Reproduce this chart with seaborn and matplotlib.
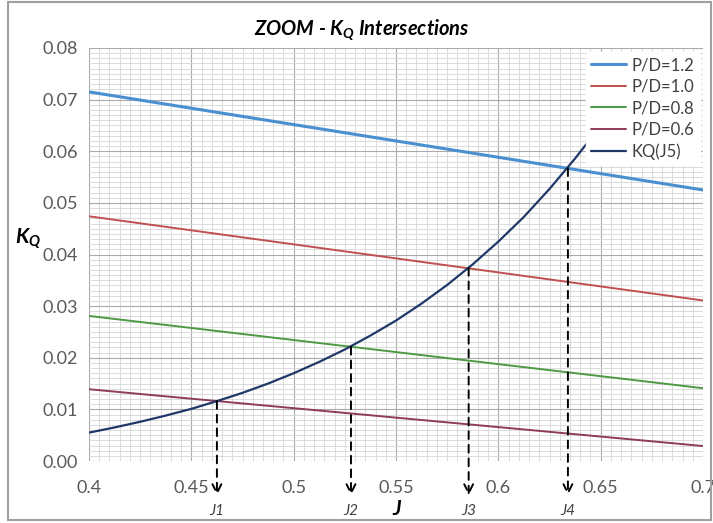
import matplotlib
matplotlib.use("Agg")
import matplotlib.pyplot as plt
import matplotlib.transforms as mtransforms
from matplotlib.patches import Rectangle
from matplotlib.ticker import MultipleLocator
import numpy as np
import pandas as pd
import seaborn as sns

# Open-water torque coefficient lines for each pitch ratio (straight segments)
j_line = [0.40, 0.70]
kq_pd12 = [0.0715, 0.0525]
kq_pd10 = [0.0474, 0.0311]
kq_pd08 = [0.0281, 0.0141]
kq_pd06 = [0.0139, 0.0029]

# Required torque curve KQ(J5)
j_curve = [0.4000, 0.4125, 0.4250, 0.4375, 0.4500, 0.4625, 0.4750, 0.4875, 0.5000,
           0.5125, 0.5250, 0.5375, 0.5500, 0.5625, 0.5750, 0.5875, 0.6000, 0.6125,
           0.6250, 0.6375, 0.6470]
kq_curve = [0.0055, 0.0065, 0.0076, 0.0088, 0.0101, 0.0116, 0.0132, 0.0150, 0.0170,
            0.0192, 0.0216, 0.0243, 0.0272, 0.0305, 0.0341, 0.0381, 0.0425, 0.0473,
            0.0527, 0.0586, 0.0634]

# Intersection points marked with dropped arrows
j_marks = [0.4625, 0.528, 0.5855, 0.634]
kq_marks = [0.0116, 0.0221, 0.0374, 0.0567]
mark_labels = ["J1", "J2", "J3", "J4"]

series_names = ["P/D=1.2", "P/D=1.0", "P/D=0.8", "P/D=0.6", "KQ(J5)"]
series_colors = ["#4a8fd0", "#c0504d", "#4e9a44", "#8e3b5c", "#1f3868"]
series_widths = [2.2, 1.4, 1.4, 1.4, 1.6]

rows = []
for name, vals in zip(series_names[:4], [kq_pd12, kq_pd10, kq_pd08, kq_pd06]):
    for j, k in zip(j_line, vals):
        rows.append({"J": j, "KQ": k, "series": name})
for j, k in zip(j_curve, kq_curve):
    rows.append({"J": j, "KQ": k, "series": series_names[4]})
df = pd.DataFrame(rows)

sns.set_theme(style="white")
plt.rcParams["font.family"] = ["Lato", "DejaVu Sans"]

fig = plt.figure(figsize=(7.13, 5.23), dpi=100)
ax = fig.add_axes([89 / 713, 1 - 461 / 523, (703 - 89) / 713, (461 - 48) / 523])

# Grid: major and minor lines
ax.set_xlim(0.4, 0.7)
ax.set_ylim(0.0, 0.08)
ax.xaxis.set_major_locator(MultipleLocator(0.05))
ax.xaxis.set_minor_locator(MultipleLocator(0.005))
ax.yaxis.set_major_locator(MultipleLocator(0.01))
ax.yaxis.set_minor_locator(MultipleLocator(0.001))
ax.grid(which="major", color="#ababab", linewidth=0.8)
ax.grid(which="minor", color="#d6d6d6", linewidth=0.6)
ax.set_axisbelow(True)
for s in ax.spines.values():
    s.set_visible(False)

sns.lineplot(data=df, x="J", y="KQ", hue="series", hue_order=series_names,
             palette=series_colors, ax=ax, legend=False, sort=True, estimator=None)
for line, lw in zip(ax.get_lines(), series_widths):
    line.set_linewidth(lw)

# Tick labels
ax.set_xticks([0.4, 0.45, 0.5, 0.55, 0.6, 0.65, 0.7])
ax.set_xticklabels(["0.4", "0.45", "0.5", "0.55", "0.6", "0.65", "0.7"])
ax.set_yticks(np.arange(0, 0.081, 0.01))
ax.set_yticklabels([f"{v:.2f}" for v in np.arange(0, 0.081, 0.01)])
ax.tick_params(axis="both", which="both", length=0, labelsize=13, labelcolor="#595959")
ax.tick_params(axis="x", pad=14)
ax.tick_params(axis="y", pad=8)
ax.set_xlabel("")
ax.set_ylabel("")

# Legend on white background over the grid
handles = [plt.Line2D([], [], color=c, lw=lw) for c, lw in zip(series_colors, series_widths)]
leg = ax.legend(handles, series_names, loc="upper right",
                bbox_to_anchor=(708 / 713, 1 - 44 / 523), bbox_transform=fig.transFigure,
                frameon=True, fontsize=12, handlelength=2.1, handletextpad=0.35,
                labelspacing=0.33, borderpad=0.3, labelcolor="#404040")
leg.get_frame().set_facecolor("white")
leg.get_frame().set_edgecolor("white")
leg.get_frame().set_alpha(1)

# Dashed arrows dropping from each intersection to below the axis
trans = mtransforms.blended_transform_factory(ax.transData, ax.transAxes)
for j, k, lab in zip(j_marks, kq_marks, mark_labels):
    ax.annotate("", xy=(j, -0.083), xycoords=trans, xytext=(j, k), textcoords="data",
                arrowprops=dict(arrowstyle="->", linestyle=(0, (4, 3)), color="black",
                                lw=1.4, mutation_scale=16, shrinkA=0, shrinkB=0),
                annotation_clip=False)
    ax.text(j, -0.122, lab, transform=trans, ha="center", va="center",
            fontsize=11, style="italic", color="#404040")

# Titles and axis labels
fig.text(0.508, 0.942, r"ZOOM - K$_\mathregular{Q}$ Intersections", ha="center", va="center",
         fontsize=14.5, fontweight="bold", style="italic", color="black")
fig.text(0.04, 0.543, r"K$_\mathregular{Q}$", ha="center", va="center",
         fontsize=15, fontweight="bold", style="italic", color="black")
fig.text(397 / 713, 1 - 509 / 523, "J", ha="center", va="center",
         fontsize=15, fontweight="bold", style="italic", color="black")

# Chart frame
fig.patches.append(Rectangle((8 / 713, 3 / 523), 703 / 713, 518 / 523, transform=fig.transFigure,
                             fill=False, edgecolor="#a0a0a0", linewidth=1.5))

fig.savefig("out.png", dpi=100)
